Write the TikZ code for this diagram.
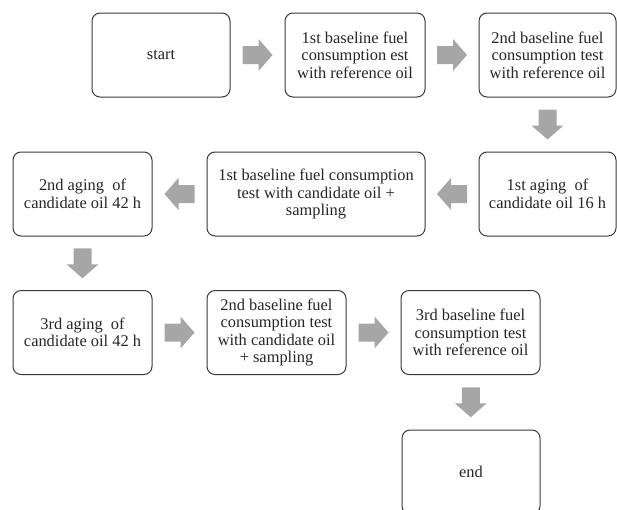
\documentclass[tikz,border=0pt]{standalone}
\usepackage{fontspec}
\setmainfont{Liberation Serif}
\usetikzlibrary{calc}
\definecolor{arrowgray}{HTML}{A6A6A6}
\definecolor{boxline}{HTML}{3A3A3A}
\definecolor{txt}{HTML}{262626}
\tikzset{
  stepbox/.style={draw=boxline, line width=1pt, rounded corners=8pt, fill=white,
    minimum width=138pt, minimum height=84pt, align=center, text=txt,
    font=\fontsize{16.4}{17.5}\selectfont, inner sep=2pt},
  blockarrow/.pic={\fill[arrowgray] (-15,-9) -- (1,-9) -- (1,-16) -- (15,0) -- (1,16) -- (1,9) -- (-15,9) -- cycle;}
}
\begin{document}
\begin{tikzpicture}[x=1pt,y=-1pt]
\useasboundingbox (0,0) rectangle (617,509);
\node[stepbox] (A) at (161,55) {start};
\node[stepbox, minimum width=140pt] (B) at (355,55) {1st baseline fuel\\consumption est\\with reference oil};
\node[stepbox, minimum width=137pt] (C) at (547.5,55) {2nd baseline fuel\\consumption test\\with reference oil};
\node[stepbox, minimum width=137pt] (D) at (547.5,194) {1st aging~ of\\candidate oil 16 h};
\node[stepbox, minimum width=218pt] (E) at (316,194) {1st baseline fuel consumption\\test with candidate oil +\\sampling};
\node[stepbox, minimum width=139pt] (F) at (82.5,194) {2nd aging~ of\\candidate oil 42 h};
\node[stepbox, minimum width=139pt] (G) at (82.5,332.5) {3rd aging~ of\\candidate oil 42 h};
\node[stepbox, minimum width=139pt] (H) at (276.5,332.5) {2nd baseline fuel\\consumption test\\with candidate oil\\+ sampling};
\node[stepbox, minimum width=139pt] (I) at (470.5,332.5) {3rd baseline fuel\\consumption test\\with reference oil};
\node[stepbox, minimum width=138pt] (J) at (471,472) {end};
\pic at ($(A.east)!0.5!(B.west)$) {blockarrow};
\pic at ($(B.east)!0.5!(C.west)$) {blockarrow};
\pic[rotate=-90] at ($(C.south)!0.5!(D.north)$) {blockarrow};
\pic[rotate=180] at ($(D.west)!0.5!(E.east)$) {blockarrow};
\pic[rotate=180] at ($(E.west)!0.5!(F.east)$) {blockarrow};
\pic[rotate=-90] at ($(F.south)!0.5!(G.north)$) {blockarrow};
\pic at ($(G.east)!0.5!(H.west)$) {blockarrow};
\pic at ($(H.east)!0.5!(I.west)$) {blockarrow};
\pic[rotate=-90] at ($(I.south)!0.5!(J.north)$) {blockarrow};
\end{tikzpicture}
\end{document}
